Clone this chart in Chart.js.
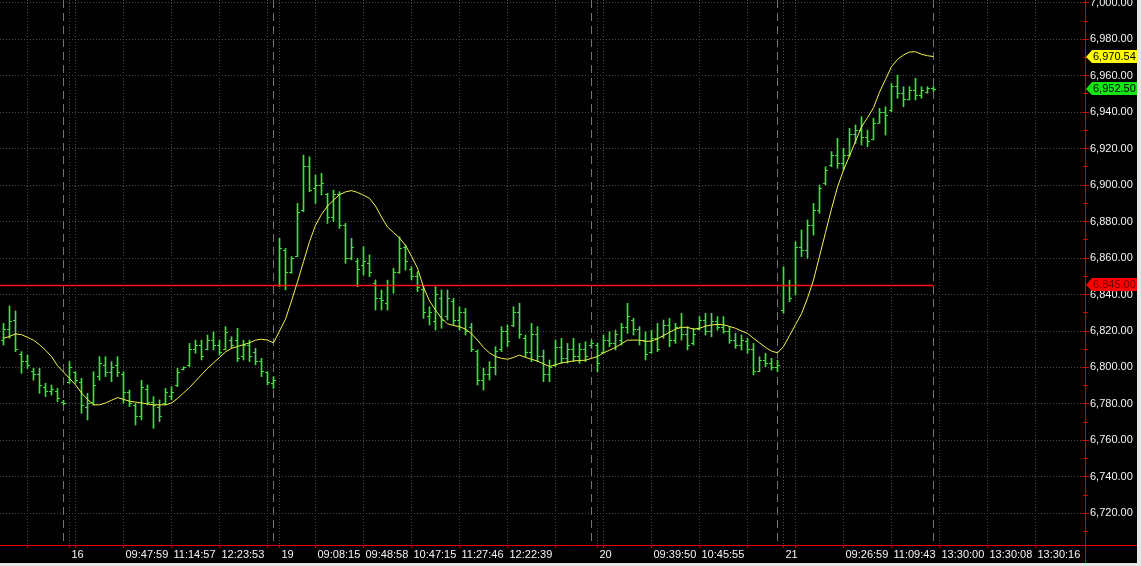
<!DOCTYPE html>
<html>
<head>
<meta charset="utf-8">
<script src="https://cdn.jsdelivr.net/npm/chart.js@4.4.1/dist/chart.umd.min.js"></script>
<style>
  html, body { margin: 0; padding: 0; background: #e6e6e6; overflow: hidden; }
  canvas { display: block; background: #000; }
</style>
</head>
<body>
<canvas id="chart" width="1137" height="563"></canvas>
<script>
// OHLC bars, one per slot (index 0..155)
const highs = [
  6824.2, 6833.7, 6831, 6808.7, 6806.8, 6799.5, 6799.5, 6791.3, 6790.4, 6788.5,
  6782, 6803.2, 6797.7, 6794, 6785.8, 6797.7, 6805.9, 6805.9, 6803.2, 6805.9,
  6797.7, 6787.6, 6780.3, 6793, 6790.4, 6784, 6782.2, 6788.5, 6789.5, 6799.5,
  6800.4, 6813.2, 6815, 6815, 6817.8, 6819.6, 6815, 6822.4, 6816.9, 6821.5,
  6815, 6815, 6810.5, 6805, 6797.7, 6795, 6870.8, 6865.3, 6860.8, 6890,
  6916.5, 6915.6, 6905.6, 6906.5, 6895.5, 6897.3, 6896.4, 6879, 6870.8, 6859.8,
  6866.3, 6861.7, 6848, 6842.5, 6847.9, 6854.4, 6871.7, 6867.2, 6855.3, 6852.5,
  6844.3, 6833.3, 6844.3, 6842.5, 6842.5, 6837.9, 6833.3, 6832.4, 6824.2, 6809.6,
  6799.5, 6803.2, 6811.4, 6822.4, 6823.3, 6833.3, 6835.2, 6817.8, 6824.2, 6822.4,
  6809.6, 6804.1, 6815, 6816, 6813.2, 6816, 6813.2, 6814.1, 6815, 6813.2,
  6817.8, 6819.6, 6820.5, 6824.2, 6835.2, 6826.9, 6822.4, 6819.6, 6820.5, 6824.2,
  6826, 6826.9, 6824.2, 6829.7, 6822.4, 6821.5, 6827.9, 6829.7, 6829.7, 6827.9,
  6827.9, 6822.4, 6818.7, 6817.8, 6816, 6813.2, 6805.9, 6807.8, 6805, 6804,
  6855.3, 6847.9, 6869, 6875.4, 6880.9, 6890, 6900.1, 6910.1, 6918.4, 6925.7,
  6920.2, 6931.2, 6933, 6937.6, 6930.2, 6936.7, 6942.1, 6943, 6955.8, 6960.4,
  6954, 6954, 6958.6, 6954, 6954, 6954
];
const lows = [
  6812.3, 6816, 6808.7, 6796.8, 6799.5, 6793, 6785.8, 6784, 6784.9, 6781.2,
  6779.4, 6791.3, 6791.3, 6774.8, 6771.2, 6779.4, 6793, 6795, 6792.2, 6795,
  6780.3, 6778.5, 6768.4, 6771.2, 6779.4, 6766.6, 6770.3, 6779.4, 6782.2, 6789.5,
  6798.6, 6800.4, 6807.8, 6804.1, 6809.6, 6809.6, 6806.8, 6809.6, 6810.5, 6803.2,
  6804.1, 6803.2, 6801.4, 6795, 6790.4, 6788.5, 6844.3, 6842.5, 6851.6, 6860.8,
  6885.4, 6896.4, 6890, 6894.6, 6879, 6880, 6876.3, 6857.1, 6859, 6844.3,
  6850.7, 6849.8, 6831.5, 6831.5, 6831.5, 6840.7, 6851.6, 6853.4, 6848, 6841.6,
  6826.9, 6823.3, 6820.5, 6821.5, 6826, 6823.3, 6820.5, 6817.8, 6808.7, 6790.4,
  6787.6, 6793.1, 6795.9, 6808.7, 6811.4, 6822.4, 6816, 6805.9, 6803.2, 6803.2,
  6792.2, 6792.2, 6800.4, 6802.3, 6802.3, 6803.2, 6802.3, 6803.2, 6810.5, 6797.7,
  6807.8, 6811.4, 6809.6, 6812.3, 6818.7, 6817.8, 6812.3, 6804.1, 6807.8, 6808.7,
  6816, 6811.4, 6813.2, 6815, 6809.6, 6812.3, 6820.5, 6817.8, 6816.9, 6820.5,
  6818.7, 6813.2, 6810.5, 6809.6, 6807.8, 6795.9, 6797.7, 6800.4, 6798.6, 6797.7,
  6829.7, 6836.1, 6839.7, 6860.8, 6859.9, 6872.6, 6884.5, 6900.1, 6910.1, 6909.2,
  6908.3, 6915.6, 6922.9, 6922, 6921.1, 6924.8, 6933.9, 6927.5, 6940.3, 6947.6,
  6943, 6946.7, 6946.7, 6947.6, 6950.4, 6951.5
];
const opens = [
  6815, 6821, 6826, 6807, 6803, 6798, 6796, 6789, 6787, 6787,
  6781, 6792, 6797, 6792, 6778, 6781, 6795, 6801, 6797, 6801,
  6796, 6786, 6779, 6773, 6788, 6781, 6778, 6780, 6784, 6790,
  6799, 6801, 6810, 6812, 6810, 6815, 6812, 6810, 6815, 6815,
  6806, 6812, 6808, 6803, 6797, 6791, 6845, 6864, 6852, 6861,
  6886, 6910, 6898, 6900, 6895, 6882, 6895, 6878, 6860, 6858,
  6856, 6857, 6846, 6838, 6835, 6845, 6852, 6866, 6854, 6850,
  6843, 6828, 6825, 6838, 6828, 6836, 6826, 6830, 6822, 6809,
  6793, 6796, 6800, 6810, 6820, 6823, 6830, 6816, 6808, 6818,
  6806, 6796, 6801, 6811, 6805, 6810, 6806, 6810, 6812, 6812,
  6808, 6815, 6813, 6815, 6822, 6826, 6821, 6815, 6808, 6816,
  6817, 6823, 6815, 6822, 6818, 6813, 6821, 6826, 6820, 6825,
  6822, 6820, 6815, 6812, 6814, 6810, 6798, 6804, 6802, 6800,
  6831, 6845, 6845, 6866, 6864, 6878, 6886, 6901, 6911, 6916,
  6912, 6916, 6928, 6930, 6926, 6925, 6934, 6940, 6941, 6954,
  6950, 6947, 6952, 6949, 6951, 6953
];
const closes = [
  6821, 6825, 6810, 6803, 6801, 6796, 6790, 6787, 6788, 6783,
  6780, 6800, 6793, 6779, 6780, 6790, 6802, 6797, 6800, 6797,
  6786, 6780, 6773, 6789, 6781, 6779, 6773, 6786, 6786, 6797,
  6800, 6810, 6812, 6806, 6815, 6812, 6808, 6819, 6812, 6805,
  6812, 6806, 6803, 6798, 6792, 6793, 6865, 6852, 6860, 6885,
  6910, 6897, 6900, 6901, 6882, 6895, 6878, 6860, 6866, 6854,
  6858, 6852, 6838, 6837, 6845, 6852, 6865, 6858, 6850, 6844,
  6830, 6830, 6840, 6826, 6838, 6826, 6830, 6820, 6810, 6793,
  6796, 6800, 6809, 6820, 6814, 6830, 6818, 6808, 6818, 6806,
  6796, 6800, 6811, 6805, 6810, 6806, 6810, 6806, 6813, 6802,
  6815, 6813, 6818, 6822, 6828, 6821, 6815, 6807, 6816, 6810,
  6823, 6815, 6822, 6818, 6812, 6818, 6826, 6820, 6825, 6822,
  6820, 6815, 6812, 6815, 6810, 6798, 6804, 6802, 6800, 6801,
  6845, 6838, 6866, 6864, 6878, 6886, 6898, 6908, 6916, 6912,
  6916, 6928, 6930, 6926, 6924, 6934, 6940, 6938, 6954, 6950,
  6947, 6952, 6949, 6952, 6953, 6952.5
];
// yellow moving average
const average = [
  6816, 6817, 6818.4, 6818, 6816.5, 6815, 6812.5, 6809.5, 6806, 6801,
  6797.5, 6794, 6790.5, 6786, 6782.5, 6779.5, 6779.5, 6780.5, 6782, 6783.5,
  6782.5, 6781.5, 6781, 6780.5, 6780, 6779.5, 6779.5, 6779.5, 6780.5, 6783,
  6786, 6789, 6792.5, 6796, 6799.5, 6802.5, 6805.5, 6808.5, 6810.5, 6811.5,
  6812.5, 6813.5, 6815, 6815.5, 6815, 6813.5, 6820, 6826.5, 6836.5, 6847,
  6858, 6869, 6878, 6884, 6888.5, 6891.8, 6894.8, 6896.3, 6897, 6896,
  6894.5, 6892.8, 6888.5, 6882.5, 6877, 6874, 6871, 6867, 6861, 6854.5,
  6844, 6836.5, 6831.5, 6827, 6824, 6823, 6822.4, 6821, 6818.5, 6815,
  6811, 6808, 6806, 6805, 6804.5, 6805.5, 6806.8, 6805.5, 6804.5, 6803.5,
  6802, 6800.5, 6801.5, 6802.5, 6803, 6803.6, 6803.8, 6804, 6805, 6806,
  6808, 6809.5, 6811, 6813, 6815, 6815, 6815, 6814.3, 6814.5, 6815.7,
  6817.5, 6819.3, 6821, 6822, 6822, 6821, 6821.5, 6822.7, 6823.3, 6823.6,
  6823.4, 6822.5, 6821.5, 6820, 6818.7, 6816, 6813.5, 6811, 6809, 6808,
  6811.5, 6817.5, 6823.5, 6829.5, 6838, 6848, 6861, 6874, 6887, 6899,
  6908.3, 6916, 6924, 6932, 6937, 6942.5, 6951, 6958, 6965, 6969,
  6971.4, 6973, 6973.2, 6971.8, 6971, 6970.54
];
const refLevel = 6845;

const yTicks = [6720, 6740, 6760, 6780, 6800, 6820, 6840, 6860, 6880, 6900, 6920, 6940, 6960, 6980, 7000];
const gridIdx = [4, 12, 20, 28, 36, 44, 52, 60, 68, 76, 84, 92, 100, 108, 116, 124, 132, 140, 148, 156, 164, 172];
const timeIdx = [20, 28, 36, 52, 60, 68, 76, 84, 108, 116, 140, 148, 156, 164, 172];
const timeText = ['09:47:59', '11:14:57', '12:23:53', '09:08:15', '09:48:58', '10:47:15', '11:27:46', '12:22:39',
  '09:39:50', '10:45:55', '09:26:59', '11:09:43', '13:30:00', '13:30:08', '13:30:16'];
const dayIdx = [11, 46, 99, 130];
const dayText = ['16', '19', '20', '21'];
const sessionBreaks = [10, 45, 98, 129, 155];

const FONT = '11px "Liberation Sans", Arial, sans-serif';
const BAR = '#46da46';
const AXIS_RED = '#e00000';

const fmt = v => v.toLocaleString('en-US', { minimumFractionDigits: 2, maximumFractionDigits: 2 });
const xLabel = v => {
  let k = dayIdx.indexOf(v);
  if (k >= 0) return dayText[k];
  k = timeIdx.indexOf(v);
  return k >= 0 ? timeText[k] : '';
};

const idx = highs.map((_, i) => i);
const last = idx.length - 1;

const overlay = {
  id: 'overlay',
  beforeDatasetsDraw(chart) {
    const { ctx, chartArea: a, scales: { x } } = chart;
    ctx.save();
    ctx.strokeStyle = '#747474';
    ctx.lineWidth = 1;
    ctx.setLineDash([8, 5]);
    sessionBreaks.forEach(i => {
      const px = Math.floor(x.getPixelForValue(i)) + 0.5;
      ctx.beginPath();
      ctx.moveTo(px, a.top);
      ctx.lineTo(px, a.bottom);
      ctx.stroke();
    });
    ctx.restore();
  },
  afterDatasetDraw(chart, args) {
    if (args.index !== 0) return;
    const { ctx, scales: { x, y } } = chart;
    ctx.save();
    ctx.fillStyle = BAR;
    idx.forEach(i => {
      const px = Math.floor(x.getPixelForValue(i));
      ctx.fillRect(px - 2, Math.floor(y.getPixelForValue(opens[i])), 2, 1);
      ctx.fillRect(px + 1, Math.floor(y.getPixelForValue(closes[i])), 2, 1);
    });
    ctx.restore();
  },
  afterDraw(chart) {
    const { ctx, chartArea: a, scales: { y }, width, height } = chart;
    ctx.save();
    ctx.strokeStyle = AXIS_RED;
    ctx.lineWidth = 1;
    ctx.beginPath();
    ctx.moveTo(0, a.bottom + 0.5); ctx.lineTo(width, a.bottom + 0.5);
    ctx.moveTo(a.right + 0.5, 0); ctx.lineTo(a.right + 0.5, height);
    // price ticks on the right axis
    yTicks.forEach(v => {
      const py = Math.floor(y.getPixelForValue(v)) + 0.5;
      ctx.moveTo(a.right - 3, py); ctx.lineTo(a.right + 4, py);
      const pm = Math.floor(y.getPixelForValue(v - 10)) + 0.5;
      if (pm < a.bottom) { ctx.moveTo(a.right - 2, pm); ctx.lineTo(a.right + 3, pm); }
    });
    ctx.stroke();

    const tag = (value, fill, ink) => {
      const cy = Math.round(y.getPixelForValue(value));
      ctx.fillStyle = fill;
      ctx.beginPath();
      ctx.moveTo(a.right + 1, cy);
      ctx.lineTo(a.right + 7, cy - 7);
      ctx.lineTo(width, cy - 7);
      ctx.lineTo(width, cy + 6);
      ctx.lineTo(a.right + 7, cy + 6);
      ctx.closePath();
      ctx.fill();
      ctx.fillStyle = ink;
      ctx.font = FONT;
      ctx.textBaseline = 'middle';
      ctx.textAlign = 'left';
      ctx.fillText(fmt(value), a.right + 8, cy);
    };
    tag(average[last], '#ffff00', '#000');
    tag(closes[last], '#14e614', '#000');
    tag(refLevel, '#ff0000', '#700000');
    ctx.restore();
  }
};

new Chart(document.getElementById('chart'), {
  type: 'bar',
  data: {
    datasets: [
      {
        type: 'bar',
        data: idx.map(i => ({ x: i, y: [lows[i], highs[i]] })),
        backgroundColor: BAR,
        borderWidth: 0,
        barThickness: 1,
        order: 2
      },
      {
        type: 'line',
        data: [{ x: -0.6, y: refLevel }, { x: last, y: refLevel }],
        borderColor: '#ff1010',
        borderWidth: 1.6,
        pointRadius: 0,
        order: 1
      },
      {
        type: 'line',
        data: idx.map(i => ({ x: i, y: average[i] })),
        borderColor: '#f4f44c',
        borderWidth: 1,
        pointRadius: 0,
        tension: 0,
        order: 0
      }
    ]
  },
  options: {
    responsive: false,
    animation: false,
    devicePixelRatio: 1,
    layout: { padding: 0 },
    plugins: { legend: { display: false }, tooltip: { enabled: false } },
    scales: {
      x: {
        type: 'linear',
        offset: false,
        bounds: 'data',
        min: -0.58333,
        max: 180.25,
        afterBuildTicks: s => { s.ticks = gridIdx.concat(dayIdx).sort((p, q) => p - q).map(v => ({ value: v })); },
        afterFit: s => { s.height = 18; s.paddingLeft = 0; s.paddingRight = 0; },
        grid: { offset: false, color: '#4a4a4a', lineWidth: 1, tickColor: AXIS_RED, tickLength: 3 },
        border: { display: false, dash: [1, 2] },
        ticks: {
          autoSkip: false, maxRotation: 0, minRotation: 0, align: 'start', labelOffset: 2, padding: 0,
          color: '#f4f4f4', font: { family: '"Liberation Sans", Arial, sans-serif', size: 11 },
          callback: v => xLabel(v)
        }
      },
      y: {
        type: 'linear',
        position: 'right',
        bounds: 'data',
        min: 6702.62,
        max: 7001.56,
        afterBuildTicks: s => { s.ticks = yTicks.map(v => ({ value: v })); },
        afterFit: s => { s.width = 52; s.paddingTop = 0; s.paddingBottom = 0; },
        grid: { color: '#4a4a4a', lineWidth: 1, drawTicks: false },
        border: { display: false, dash: [1, 2] },
        ticks: {
          padding: 5, color: '#f4f4f4',
          font: { family: '"Liberation Sans", Arial, sans-serif', size: 11 },
          callback: v => fmt(v)
        }
      }
    }
  },
  plugins: [overlay]
});
</script>
</body>
</html>
